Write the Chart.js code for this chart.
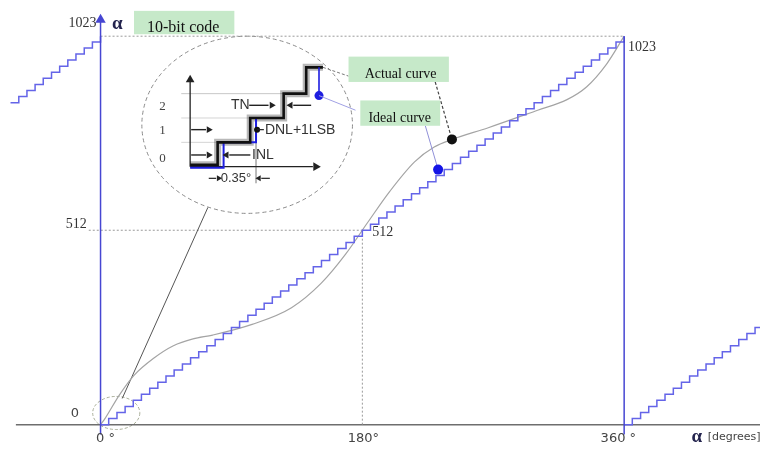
<!DOCTYPE html>
<html lang="en">
<head>
<meta charset="UTF-8">
<title>10-bit code vs angle</title>
<script src="https://cdn.jsdelivr.net/npm/chart.js"></script>
<style>
    body { margin: 0; background: #fff; }
    #wrap { width: 766px; height: 456px; }
</style>
</head>
<body>
<div id="wrap"><canvas id="codeChart" width="766" height="456"></canvas></div>
<script>
// ideal transfer function: step edges (degrees) and output codes
const stepAngles = [0, 5.6, 11.3, 16.9, 22.5, 28.1, 33.8, 39.4, 45, 50.6, 56.3, 61.9, 67.5, 73.1, 78.8, 84.4,
    90, 95.6, 101.3, 106.9, 112.5, 118.1, 123.8, 129.4, 135, 140.6, 146.3, 151.9, 157.5, 163.1, 168.8, 174.4,
    180, 185.6, 191.3, 196.9, 202.5, 208.1, 213.8, 219.4, 225, 230.6, 236.3, 241.9, 247.5, 253.1, 258.8, 264.4,
    270, 275.6, 281.3, 286.9, 292.5, 298.1, 303.8, 309.4, 315, 320.6, 326.3, 331.9, 337.5, 343.1, 348.8, 354.4, 360];
const stepCodes = [0, 16, 32, 48, 64, 80, 96, 112, 128, 144, 160, 176, 192, 208, 224, 240,
    256, 272, 288, 304, 320, 336, 352, 368, 384, 400, 416, 432, 448, 464, 480, 496,
    512, 528, 544, 560, 576, 592, 608, 624, 640, 656, 672, 688, 704, 720, 736, 752,
    768, 784, 800, 816, 832, 848, 864, 880, 896, 912, 928, 944, 960, 976, 992, 1008, 1023];

// actual (measured) curve
const actualAngles = [0, 2.7, 12.9, 23, 36.5, 50.1, 63.6, 77.1, 104.2, 131.3, 151.6, 168.5, 183.4, 199, 215.9, 229.4, 241.6, 266.6, 300.5, 320.7, 334.3, 347.8, 360];
const actualCodes = [0, 14, 78, 130, 175, 208, 226, 236, 264, 308, 372, 449, 531, 615, 692, 731, 751, 782, 828, 856, 890, 949, 1023];

// magnified detail (drawn in the same units, inside the big ellipse)
const insetActualAngles = [61.6, 80.5, 102.9, 125.9, 141.4, 152.9];
const insetActualCodes = [684.6, 743.5, 807.6, 871.7, 941.0, 941.0];
const insetIdealAngles = [61.6, 84.6, 106.9];
const insetIdealCodes = [676.8, 743.5, 807.6];

// marked points
const actualMark = { x: 241.6, y: 751.2 };
const idealMark = { x: 232.1, y: 671.7 };

const pts = (xs, ys) => xs.map((x, i) => ({ x: x, y: ys[i] }));
const shift = (xs, ys, dx, lo, hi) => pts(xs, ys).map(p => ({ x: p.x + dx, y: p.y })).filter(p => p.x >= lo && p.x <= hi);

const BLUE = '#6464e8';
const AXIS_BLUE = '#4646d2';
const GREY = '#9a9a9a';
const INK = '#222';

function seg(data, color, width, extra) {
    return Object.assign({ data: data, showLine: true, borderColor: color, borderWidth: width, pointRadius: 0, fill: false }, extra || {});
}
function head(x, y, rot, color, r) {
    return { data: [{ x: x, y: y }], showLine: false, pointStyle: 'triangle', rotation: rot, pointRadius: r || 4,
        backgroundColor: color, borderColor: color, borderWidth: 0 };
}
function dot(p, color, r) {
    return { data: [p], showLine: false, pointRadius: r, backgroundColor: color, borderColor: color, borderWidth: 0 };
}

const datasets = [
    // axes and guides
    seg([{ x: -58.2, y: 0 }, { x: 455, y: 0 }], '#6e6e6e', 1.5),
    seg([{ x: 0, y: 1023 }, { x: 360, y: 1023 }], GREY, 1, { borderDash: [2, 2] }),
    seg([{ x: -8.1, y: 512 }, { x: 180, y: 512 }], GREY, 1, { borderDash: [2, 2] }),
    seg([{ x: 180, y: 0 }, { x: 180, y: 512 }], GREY, 1, { borderDash: [2, 2] }),
    seg([{ x: 14.9, y: 69 }, { x: 73.8, y: 572 }], '#555', 1),
    // curves
    seg(pts(actualAngles, actualCodes), '#a4a4a4', 1.2, { cubicInterpolationMode: 'monotone' }),
    seg(pts(stepAngles, stepCodes), BLUE, 1.5, { stepped: 'before' }),
    seg(shift(stepAngles, stepCodes, -360, -66, 0), BLUE, 1.5, { stepped: 'before' }),
    seg(shift(stepAngles, stepCodes, 360, 360, 456), BLUE, 1.5, { stepped: 'before' }),
    seg([{ x: 0, y: -25.6 }, { x: 0, y: 1062 }], AXIS_BLUE, 1.5),
    seg([{ x: 360, y: -25.6 }, { x: 360, y: 1023 }], AXIS_BLUE, 1.5),
    head(0, 1066, 0, AXIS_BLUE, 6),
    // inset
    seg([{ x: 55.5, y: 871.7 }, { x: 138, y: 871.7 }], '#c8c8c8', 1),
    seg([{ x: 55.5, y: 807.6 }, { x: 104.2, y: 807.6 }], '#d4d4d4', 1),
    seg([{ x: 55.5, y: 743.5 }, { x: 80.5, y: 743.5 }], '#d4d4d4', 1),
    seg([{ x: 106.9, y: 769.2 }, { x: 106.9, y: 635.9 }], '#b0b0b0', 1),
    seg([{ x: 61.6, y: 679.4 }, { x: 61.6, y: 905 }], INK, 1.3),
    head(61.6, 908, 0, INK, 5),
    seg([{ x: 61.6, y: 679.4 }, { x: 146, y: 679.4 }], INK, 1.3),
    head(148, 679.4, 90, INK, 5),
    seg(pts(insetActualAngles, insetActualCodes), 'rgba(0,0,0,0.28)', 7, { stepped: 'before' }),
    seg(pts(insetIdealAngles, insetIdealCodes), '#1e1ee0', 2, { stepped: 'before' }),
    seg(pts(insetActualAngles, insetActualCodes), '#111', 2.6, { stepped: 'before' }),
    seg([{ x: 150.2, y: 941 }, { x: 150.2, y: 866.6 }], '#1e1ee0', 1.6),
    dot({ x: 150.2, y: 866.6 }, '#1e1ee0', 4.5),
    dot({ x: 107.6, y: 776.9 }, '#111', 3),
    // inset arrows
    seg([{ x: 62.3, y: 776.9 }, { x: 72.5, y: 776.9 }], INK, 1.4), head(74.4, 776.9, 90, INK, 4),
    seg([{ x: 62.3, y: 710.2 }, { x: 72.5, y: 710.2 }], INK, 1.4), head(74.4, 710.2, 90, INK, 4),
    seg([{ x: 88.5, y: 710.2 }, { x: 103, y: 710.2 }], INK, 1.4), head(86.6, 710.2, 270, INK, 4),
    seg([{ x: 102.2, y: 841 }, { x: 115.5, y: 841 }], INK, 1.4), head(117.7, 841, 90, INK, 4),
    seg([{ x: 132.5, y: 841 }, { x: 144.8, y: 841 }], INK, 1.4), head(130.6, 841, 270, INK, 4),
    seg([{ x: 107.6, y: 776.9 }, { x: 112.3, y: 776.9 }], INK, 1.2),
    seg([{ x: 74.4, y: 648.7 }, { x: 79.5, y: 648.7 }], INK, 1.2), head(81.2, 648.7, 90, INK, 3.5),
    seg([{ x: 110.5, y: 648.7 }, { x: 116.4, y: 648.7 }], INK, 1.2), head(108.9, 648.7, 270, INK, 3.5),
    // annotation leaders
    seg([{ x: 152.9, y: 941 }, { x: 170.5, y: 917.9 }], '#777', 1, { borderDash: [3, 2] }),
    seg([{ x: 150.2, y: 866.6 }, { x: 175.3, y: 828.1 }], '#a0a0e4', 1),
    seg([{ x: 230.1, y: 902.5 }, { x: actualMark.x, y: actualMark.y }], '#444', 1.2, { borderDash: [3, 2] }),
    seg([{ x: 223.3, y: 787.1 }, { x: idealMark.x, y: idealMark.y }], '#9090d8', 1),
    dot(actualMark, '#111', 5),
    dot(idealMark, '#1414e6', 5)
];
datasets.forEach((d, i) => { d.order = -i; });

// label boxes (light green) and texts, placed in chart units
const boxes = [
    { x0: 23.0, x1: 92.0, y0: 1089.7, y1: 1028.1 },
    { x0: 170.5, x1: 239.5, y0: 969.2, y1: 902.5 },
    { x0: 178.6, x1: 233.5, y0: 853.8, y1: 787.1 }
];
const SERIF = '"Liberation Serif", "DejaVu Serif", serif';
const SANS = '"DejaVu Sans", sans-serif';
const NARROW = '"Liberation Sans Narrow", "Liberation Sans", sans-serif';
const notes = [
    { t: '10-bit code', x: 56.8, y: 1045, font: '16px ' + SERIF, color: '#111' },
    { t: 'Actual curve', x: 206.3, y: 922, font: '14px ' + SERIF, color: '#111' },
    { t: 'Ideal curve', x: 205.7, y: 806.5, font: '14px ' + SERIF, color: '#111' },
    { t: '1023', x: -2.7, y: 1056, font: '14px ' + SERIF, color: '#333', align: 'right' },
    { t: 'α', x: 11.5, y: 1056, font: 'bold 19px ' + SERIF, color: '#24244e' },
    { t: '1023', x: 362.7, y: 994.8, font: '14px ' + SERIF, color: '#333', align: 'left' },
    { t: '512', x: -9.5, y: 528, font: '14px ' + SERIF, color: '#333', align: 'right' },
    { t: '512', x: 186.8, y: 507.7, font: '14px ' + SERIF, color: '#333', align: 'left' },
    { t: '0', x: -17.6, y: 28.2, font: '13px ' + SANS, color: '#444' },
    { t: '0 °', x: 3.4, y: -35.9, font: '13px ' + SANS, color: '#444' },
    { t: '180°', x: 180.7, y: -35.9, font: '13px ' + SANS, color: '#444' },
    { t: '360 °', x: 356, y: -35.9, font: '13px ' + SANS, color: '#444' },
    { t: 'α', x: 410, y: -33, font: 'bold 19px ' + SERIF, color: '#24244e' },
    { t: '[degrees]', x: 417.5, y: -33, font: '11px ' + SANS, color: '#444', align: 'left' },
    { t: '2', x: 42.6, y: 838.4, font: '13px ' + SERIF, color: '#444' },
    { t: '1', x: 42.6, y: 774.3, font: '13px ' + SERIF, color: '#444' },
    { t: '0', x: 42.6, y: 700, font: '13px ' + SERIF, color: '#444' },
    { t: 'TN', x: 96.1, y: 841, font: '14px ' + NARROW, color: '#333', narrow: true },
    { t: 'DNL+1LSB', x: 113, y: 776.9, font: '14px ' + NARROW, color: '#333', align: 'left', narrow: true },
    { t: 'INL', x: 104.2, y: 710.2, font: '14px ' + NARROW, color: '#333', align: 'left', narrow: true },
    { t: '0.35°', x: 82.6, y: 648.7, font: '13px ' + NARROW, color: '#333', align: 'left', narrow: true }
];
const ellipses = [
    { cx: 100.8, cy: 789.7, rx: 72.4, ry: 233.3, color: '#8a8a8a', dash: [4, 3] },
    { cx: 10.8, cy: 30.8, rx: 16.2, ry: 43.6, color: '#a8ad98', dash: [3, 2] }
];

const decorations = {
    id: 'decorations',
    beforeDatasetsDraw(chart) {
        const ctx = chart.ctx, sx = chart.scales.x, sy = chart.scales.y;
        ctx.save();
        ellipses.forEach(e => {
            const cx = sx.getPixelForValue(e.cx), cy = sy.getPixelForValue(e.cy);
            const rx = Math.abs(sx.getPixelForValue(e.cx + e.rx) - cx);
            const ry = Math.abs(sy.getPixelForValue(e.cy + e.ry) - cy);
            ctx.beginPath();
            ctx.setLineDash(e.dash);
            ctx.strokeStyle = e.color;
            ctx.lineWidth = 1;
            ctx.ellipse(cx, cy, rx, ry, 0, 0, Math.PI * 2);
            ctx.stroke();
        });
        ctx.restore();
    },
    afterDatasetsDraw(chart) {
        const ctx = chart.ctx, sx = chart.scales.x, sy = chart.scales.y;
        ctx.save();
        ctx.fillStyle = '#c6e9c9';
        boxes.forEach(b => {
            const x0 = sx.getPixelForValue(b.x0), x1 = sx.getPixelForValue(b.x1);
            const y0 = sy.getPixelForValue(b.y0), y1 = sy.getPixelForValue(b.y1);
            ctx.fillRect(x0, y0, x1 - x0, y1 - y0);
        });
        ctx.textBaseline = 'middle';
        notes.forEach(n => {
            ctx.font = n.font;
            ctx.fontStretch = n.narrow ? 'condensed' : 'normal';
            ctx.fillStyle = n.color;
            ctx.textAlign = n.align || 'center';
            ctx.fillText(n.t, sx.getPixelForValue(n.x), sy.getPixelForValue(n.y));
        });
        ctx.restore();
    }
};

new Chart(document.getElementById('codeChart'), {
    type: 'scatter',
    data: { datasets: datasets },
    options: {
        responsive: false,
        animation: false,
        layout: { padding: 0 },
        scales: {
            x: { type: 'linear', display: false, min: -65, max: 453.4 },
            y: { type: 'linear', display: false, min: -66.7, max: 1102.5 }
        },
        plugins: { legend: { display: false }, tooltip: { enabled: false } }
    },
    plugins: [decorations]
});
</script>
</body>
</html>
